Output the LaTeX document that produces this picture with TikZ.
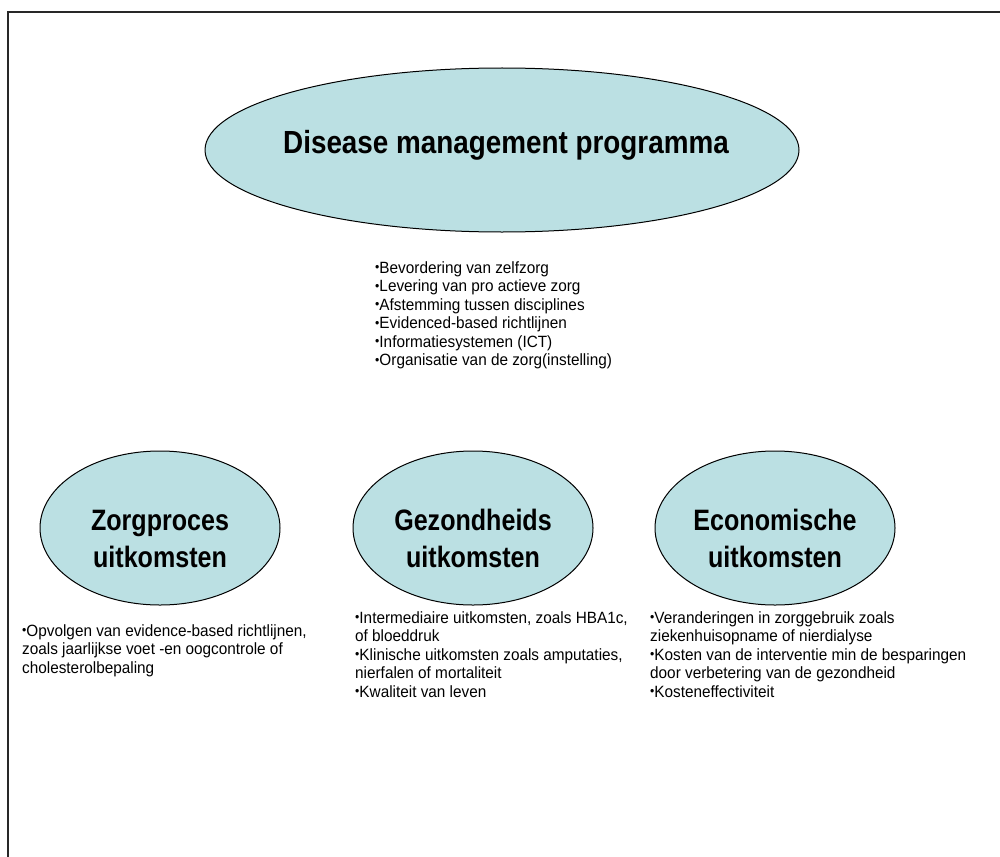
\documentclass[tikz,border=0pt]{standalone}
\usepackage{fontspec}
\setmainfont{Liberation Sans}
\newfontfamily\titlefont[FakeStretch=0.87]{Liberation Sans}
\newfontfamily\ovalfont[FakeStretch=0.85]{Liberation Sans}
\newfontfamily\listfont[FakeStretch=0.94]{Liberation Sans}
\usetikzlibrary{shapes.geometric}
\definecolor{ellfill}{RGB}{187,224,227}
\definecolor{framecol}{RGB}{40,40,40}
\newcommand{\bul}{{\fontsize{13}{13}\selectfont\raisebox{0.08em}{•}}}
\tikzset{
  oval/.style={ellipse, draw=black, line width=1pt, fill=ellfill, inner sep=0pt},
  ovaltext/.style={font=\ovalfont\fontsize{29.5}{37}\selectfont\bfseries, align=center, anchor=base},
  listtext/.style={font=\listfont\fontsize{16.3}{18.5}\selectfont, align=left, anchor=north west, inner sep=0pt},
}
\begin{document}
\begin{tikzpicture}[x=1pt,y=-1pt]
\useasboundingbox (0,0) rectangle (1000,856);
\fill[white] (0,0) rectangle (1000,856);
\draw[framecol, line width=1.6pt] (8,860) -- (8,12) -- (1004,12);

\node[oval, minimum width=594pt, minimum height=164pt] (main) at (502,150) {};
\node[font=\titlefont\fontsize{32}{36}\selectfont\bfseries, anchor=base] (maint) at (506,153) {Disease management programma};

\node[listtext] (mainlist) at (375,261) {\bul Bevordering van zelfzorg\\
\bul Levering van pro actieve zorg\\
\bul Afstemming tussen disciplines\\
\bul Evidenced-based richtlijnen\\
\bul Informatiesystemen (ICT)\\
\bul Organisatie van de zorg(instelling)};

\node[oval, minimum width=240pt, minimum height=154pt] (zorg) at (160,528) {};
\node[ovaltext] (zorgt) at (160,567) {Zorgproces\\uitkomsten};
\node[oval, minimum width=240pt, minimum height=154pt] (gez) at (473,528) {};
\node[ovaltext] (gezt) at (473,567) {Gezondheids\\uitkomsten};
\node[oval, minimum width=240pt, minimum height=154pt] (eco) at (775,528) {};
\node[ovaltext] (ecot) at (775,567) {Economische\\uitkomsten};

\node[listtext] (zorgl) at (22,624) {\bul Opvolgen van evidence-based richtlijnen,\\
zoals jaarlijkse voet -en oogcontrole of\\
cholesterolbepaling};
\node[listtext] (gezl) at (355,611) {\bul Intermediaire uitkomsten, zoals HBA1c,\\
of bloeddruk\\
\bul Klinische uitkomsten zoals amputaties,\\
nierfalen of mortaliteit\\
\bul Kwaliteit van leven};
\node[listtext] (ecol) at (650,611) {\bul Veranderingen in zorggebruik zoals\\
ziekenhuisopname of nierdialyse\\
\bul Kosten van de interventie min de besparingen\\
door verbetering van de gezondheid\\
\bul Kosteneffectiviteit};
\end{tikzpicture}
\end{document}
